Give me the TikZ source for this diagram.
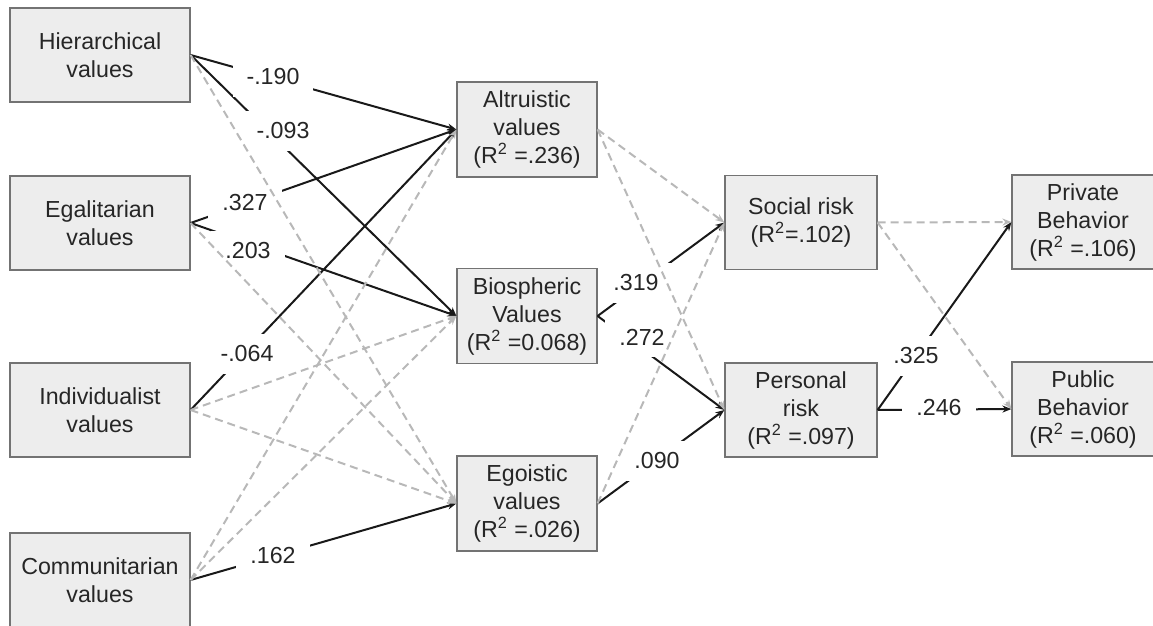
\documentclass[tikz,border=0pt]{standalone}
\usepackage{fontspec}
\setmainfont{Liberation Sans}
\usetikzlibrary{arrows.meta}

\begin{document}
\begin{tikzpicture}[x=0.5pt,y=-0.5pt,
  panel/.style={draw=black!55, line width=0.6pt, fill=black!7, align=center, text=black!85, font=\fontsize{11.6}{14}\selectfont, inner sep=0pt},
  valbox/.style={panel, minimum width=90pt, minimum height=47pt},
  motbox/.style={panel, minimum width=70pt, minimum height=47.5pt},
  riskbox/.style={panel, minimum width=76pt, minimum height=47pt},
  behbox/.style={panel, minimum width=71pt, minimum height=47pt},
  sig/.style={-{Stealth[length=4.5pt,width=3.5pt]}, line width=1pt, black!90},
  ns/.style={-{Stealth[length=4.5pt,width=3.5pt]}, line width=1pt, black!28, dash pattern=on 4pt off 2.5pt},
  wt/.style={fill=white, inner xsep=7pt, inner ysep=6pt, font=\fontsize{11.6}{14}\selectfont, text=black!85}]

\useasboundingbox (0,0) rectangle (1153,626);
\clip (0,0) rectangle (1153,626);

\node[valbox] (hier) at (100,55) {Hierarchical\\values};
\node[valbox] (egal) at (100,223) {Egalitarian\\values};
\node[valbox] (indiv) at (100,410) {Individualist\\values};
\node[valbox] (comm) at (100,580) {Communitarian\\values};

\node[motbox] (altr) at (527,129.5) {Altruistic\\values\\(R\textsuperscript{2} =.236)};
\node[motbox] (bio) at (527,316) {Biospheric\\Values\\(R\textsuperscript{2} =0.068)};
\node[motbox] (ego) at (527,503.5) {Egoistic\\values\\(R\textsuperscript{2} =.026)};

\node[riskbox] (soc) at (801,222.5) {Social risk\\(R\textsuperscript{2}=.102)};
\node[riskbox] (pers) at (801,410) {Personal\\risk\\(R\textsuperscript{2} =.097)};

\node[behbox] (priv) at (1083,222) {Private\\Behavior\\(R\textsuperscript{2} =.106)};
\node[behbox] (pub) at (1083,409) {Public\\Behavior\\(R\textsuperscript{2} =.060)};

\draw[sig] (hier.east) -- (altr.west);
\draw[sig] (hier.east) -- (bio.west);
\draw[sig] (egal.east) -- (altr.west);
\draw[sig] (egal.east) -- (bio.west);
\draw[sig] (indiv.east) -- (altr.west);
\draw[sig] (comm.east) -- (ego.west);
\draw[sig] (bio.east) -- (soc.west);
\draw[sig] (bio.east) -- (pers.west);
\draw[sig] (ego.east) -- (pers.west);
\draw[sig] (pers.east) -- (priv.west);
\draw[sig] (pers.east) -- (pub.west);

\node[wt] (c190) at (273,77) {-.190};
\node[wt] (c093) at (283,131) {-.093};
\node[wt] (c327) at (245,203) {.327};
\node[wt] (c203) at (248,251) {.203};
\node[wt] (c064) at (247,354) {-.064};
\node[wt] (c162) at (273,556) {.162};
\node[wt] (c319) at (636,283) {.319};
\node[wt] (c272) at (642,337) {.272};
\node[wt] (c090) at (657,461) {.090};
\node[wt] (c325) at (916,356) {.325};
\node[wt] (c246) at (939,408) {.246};

\draw[ns] (hier.east) -- (ego.west);
\draw[ns] (egal.east) -- (ego.west);
\draw[ns] (indiv.east) -- (bio.west);
\draw[ns] (indiv.east) -- (ego.west);
\draw[ns] (comm.east) -- (altr.west);
\draw[ns] (comm.east) -- (bio.west);
\draw[ns] (altr.east) -- (soc.west);
\draw[ns] (altr.east) -- (pers.west);
\draw[ns] (ego.east) -- (soc.west);
\draw[ns] (soc.east) -- (priv.west);
\draw[ns] (soc.east) -- (pub.west);
\end{tikzpicture}
\end{document}
